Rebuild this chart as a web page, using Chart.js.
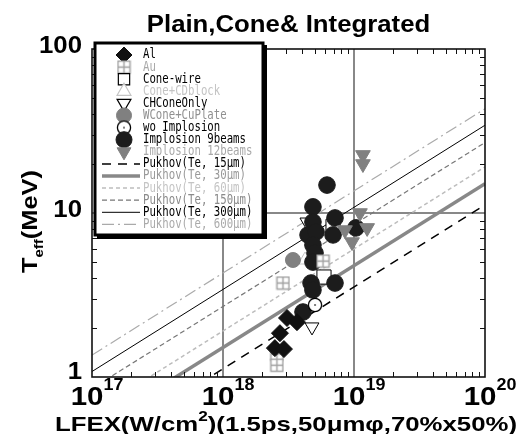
<!DOCTYPE html>
<html><head><meta charset="utf-8">
<script src="https://cdn.jsdelivr.net/npm/chart.js@4/dist/chart.umd.min.js"></script>
<style>html,body{margin:0;padding:0;background:#fff}#wrap{width:520px;height:434px;position:relative}</style>
</head><body><div id="wrap"><canvas id="c"></canvas></div>
<script>
// ---- data (I in W/cm^2, T in MeV) ----
const alI = [3.08e18, 3.67e18, 2.72e18, 2.49e18, 2.92e18];
const alT = [2.29, 2.16, 1.85, 1.50, 1.48];
const auI = [2.87e18, 5.80e18, 2.58e18, 2.58e18];
const auT = [3.74, 5.09, 1.38, 1.18];
const coneWireI = [5.90e18, 6.92e18];
const coneWireT = [4.07, 8.3];
const cdBlockI = [4.23e18];
const cdBlockT = [5.17];
const chConeI = [4.78e18, 4.37e18];
const chConeT = [2.02, 8.81];
const wConeI = [3.42e18];
const wConeT = [5.17];
const woImpI = [5.04e18];
const woImpT = [2.75];
const imp9I = [6.22e18, 4.86e18, 4.86e18, 4.46e18, 5.13e18, 4.86e18, 5.04e18, 4.86e18, 7.16e18, 6.92e18, 1.035e19, 4.70e18, 4.86e18, 7.16e18, 4.08e18];
const imp9T = [14.8, 10.9, 8.81, 7.35, 7.66, 6.38, 5.70, 5.02, 9.33, 7.35, 8.11, 3.74, 3.39, 3.74, 2.49];
const imp12I = [1.17e19, 1.17e19, 1.11e19, 8.53e18, 1.26e19, 9.66e18];
const imp12T = [22.6, 19.9, 10.0, 7.87, 8.11, 6.65];
// Pukhov lines: values at the two ends of the x range
const lineI = [1e17, 1e20];
const pukhov15 = [0.355, 11.2];
const pukhov30 = [0.479, 15.1];
const pukhov60 = [0.603, 19.1];
const pukhov150 = [0.851, 26.9];
const pukhov300 = [1.08, 34.3];
const pukhov600 = [1.36, 43.2];
// axes
const xTicks = [1e17, 1e18, 1e19, 1e20];
const xTickExp = ['17', '18', '19', '20'];
const yTicks = [1, 10, 100];
const yTickLabels = ['1', '10', '100'];
const xGrid = [1e18, 1e19];
const yGrid = [10];

// ---- custom marker images ----
function makeAu() {
  const c = document.createElement('canvas'); c.width = 15; c.height = 15;
  const g = c.getContext('2d');
  g.fillStyle = '#fff'; g.fillRect(1, 1, 13, 13);
  g.strokeStyle = '#a0a0a0'; g.lineWidth = 1.4;
  g.strokeRect(1.5, 1.5, 12, 12);
  g.beginPath(); g.moveTo(7.5, 1.5); g.lineTo(7.5, 13.5); g.moveTo(1.5, 7.5); g.lineTo(13.5, 7.5); g.stroke();
  return c;
}
function makeWo() {
  const c = document.createElement('canvas'); c.width = 16; c.height = 16;
  const g = c.getContext('2d');
  g.beginPath(); g.arc(8, 8, 6.6, 0, Math.PI * 2);
  g.fillStyle = '#fff'; g.fill(); g.strokeStyle = '#000'; g.lineWidth = 1.3; g.stroke();
  g.beginPath(); g.arc(8, 8, 1, 0, Math.PI * 2); g.fillStyle = '#555'; g.fill();
  return c;
}
const pts = (I, T) => I.map((x, i) => ({ x, y: T[i] }));
function pointDs(label, I, T, o) {
  return Object.assign({ label, data: pts(I, T), showLine: false, pointBorderWidth: 1, borderWidth: 1 }, o);
}
function lineDs(label, T, o) {
  return Object.assign({ label, data: pts(lineI, T), showLine: true, pointRadius: 0, pointHoverRadius: 0, fill: false, order: 20 }, o);
}
const datasets = [
  pointDs('Al', alI, alT, { pointStyle: 'rectRot', pointRadius: 8.5, backgroundColor: '#111', borderColor: '#111', textColor: '#000', order: 1 }),
  pointDs('Au', auI, auT, { pointStyle: makeAu(), pointRadius: 7, backgroundColor: '#fff', borderColor: '#a0a0a0', textColor: '#a8a8a8', order: 2 }),
  pointDs('Cone-wire', coneWireI, coneWireT, { pointStyle: 'rect', pointRadius: 10, backgroundColor: '#fff', borderColor: '#000', borderWidth: 1.2, textColor: '#000', order: 8 }),
  pointDs('Cone+CDblock', cdBlockI, cdBlockT, { pointStyle: 'triangle', pointRadius: 8, backgroundColor: '#fff', borderColor: '#c4c4c4', borderWidth: 1.2, textColor: '#c4c4c4', order: 8 }),
  pointDs('CHConeOnly', chConeI, chConeT, { pointStyle: 'triangle', rotation: 180, pointRotation: 180, pointRadius: 8, backgroundColor: '#fff', borderColor: '#000', borderWidth: 1.2, textColor: '#000', order: 8 }),
  pointDs('WCone+CuPlate', wConeI, wConeT, { pointStyle: 'circle', pointRadius: 7.5, backgroundColor: '#808080', borderColor: '#808080', textColor: '#909090', order: 3 }),
  pointDs('wo Implosion', woImpI, woImpT, { pointStyle: makeWo(), pointRadius: 7, backgroundColor: '#fff', borderColor: '#000', textColor: '#000', order: 3 }),
  pointDs('Implosion 9beams', imp9I, imp9T, { pointStyle: 'circle', pointRadius: 8.3, backgroundColor: '#1c1c1c', borderColor: '#1c1c1c', textColor: '#000', order: 5 }),
  pointDs('Implosion 12beams', imp12I, imp12T, { pointStyle: 'triangle', rotation: 180, pointRotation: 180, pointRadius: 8.5, backgroundColor: '#808080', borderColor: '#808080', textColor: '#a8a8a8', order: 4 }),
  lineDs('Pukhov(Te, 15\u03bcm)', pukhov15, { borderColor: '#000', borderWidth: 1.5, borderDash: [9, 7], textColor: '#000' }),
  lineDs('Pukhov(Te, 30\u03bcm)', pukhov30, { borderColor: '#888', borderWidth: 3.5, textColor: '#999' }),
  lineDs('Pukhov(Te, 60\u03bcm)', pukhov60, { borderColor: '#bdbdbd', borderWidth: 1.5, borderDash: [4, 3], textColor: '#c4c4c4' }),
  lineDs('Pukhov(Te, 150\u03bcm)', pukhov150, { borderColor: '#777', borderWidth: 1.2, borderDash: [5, 3], textColor: '#8a8a8a' }),
  lineDs('Pukhov(Te, 300\u03bcm)', pukhov300, { borderColor: '#000', borderWidth: 1, textColor: '#000' }),
  lineDs('Pukhov(Te, 600\u03bcm)', pukhov600, { borderColor: '#aaa', borderWidth: 1.2, borderDash: [12, 4, 2, 4], textColor: '#aaa' })
];

const FONT = '"Liberation Sans", Arial, sans-serif';
function drawText(ctx, s, x, y, size, sx, align, color, weight) {
  ctx.save();
  ctx.font = (weight || 'bold') + ' ' + size + 'px ' + FONT;
  ctx.fillStyle = color || '#000';
  ctx.textBaseline = 'alphabetic'; ctx.textAlign = 'left';
  const w = ctx.measureText(s).width * sx;
  const x0 = align === 'center' ? x - w / 2 : align === 'right' ? x - w : x;
  ctx.translate(x0, y); ctx.scale(sx, 1); ctx.fillText(s, 0, 0);
  ctx.restore();
  return w;
}
function measure(ctx, s, size) {
  ctx.save(); ctx.font = 'bold ' + size + 'px ' + FONT; const w = ctx.measureText(s).width; ctx.restore(); return w;
}
function seg(ctx, x1, y1, x2, y2) { ctx.beginPath(); ctx.moveTo(x1, y1); ctx.lineTo(x2, y2); ctx.stroke(); }

const deco = {
  id: 'deco',
  beforeDatasetsDraw(chart) {
    const { ctx, chartArea: a, scales: { x, y } } = chart;
    ctx.save();
    ctx.strokeStyle = '#888'; ctx.lineWidth = 2;
    xGrid.forEach(v => { const p = x.getPixelForValue(v); seg(ctx, p, a.top, p, a.bottom); });
    yGrid.forEach(v => { const p = y.getPixelForValue(v); seg(ctx, a.left, p, a.right, p); });
    ctx.restore();
  },
  afterDatasetsDraw(chart) {
    const { ctx, chartArea: a, scales: { x, y } } = chart;
    ctx.save();
    ctx.strokeStyle = '#111'; ctx.lineWidth = 1;
    for (let d = 17; d < 20; d++) for (let m = 2; m <= 9; m++) {
      const p = Math.round(x.getPixelForValue(m * Math.pow(10, d))) + 0.5;
      seg(ctx, p, a.bottom, p, a.bottom - 5); seg(ctx, p, a.top, p, a.top + 5);
    }
    for (let d = 0; d < 2; d++) for (let m = 2; m <= 9; m++) {
      const p = Math.round(y.getPixelForValue(m * Math.pow(10, d))) + 0.5;
      seg(ctx, a.left, p, a.left + 5, p); seg(ctx, a.right, p, a.right - 5, p);
    }
    ctx.lineWidth = 1.6; ctx.strokeStyle = '#111';
    ctx.strokeRect(a.left, a.top, a.right - a.left, a.bottom - a.top);
    ctx.restore();
  },
  afterDraw(chart) {
    const { ctx, chartArea: a, scales: { x, y } } = chart;
    // legend
    const L = { x0: 95, y0: 43, x1: 263, y1: 235, tx: 143, ry: 55, step: 12.1 };
    ctx.save();
    ctx.fillStyle = '#fff'; ctx.fillRect(L.x0, L.y0, L.x1 - L.x0, L.y1 - L.y0);
    ctx.fillStyle = '#000';
    ctx.fillRect(L.x1, L.y0 + 2, 4, L.y1 - L.y0 + 2);
    ctx.fillRect(L.x0 + 2, L.y1, L.x1 - L.x0 + 2, 4);
    ctx.lineWidth = 3; ctx.strokeStyle = '#000';
    ctx.strokeRect(L.x0, L.y0, L.x1 - L.x0, L.y1 - L.y0);
    chart.data.datasets.forEach((d, i) => {
      const yy = L.ry + i * L.step;
      if (d.showLine) {
        ctx.save();
        ctx.strokeStyle = d.borderColor; ctx.lineWidth = d.borderWidth; ctx.setLineDash(d.borderDash || []);
        seg(ctx, 102, yy, 140, yy);
        ctx.restore();
      } else {
        ctx.save();
        ctx.fillStyle = d.backgroundColor; ctx.strokeStyle = d.borderColor; ctx.lineWidth = d.borderWidth;
        Chart.helpers.drawPoint(ctx, { pointStyle: d.pointStyle, radius: Math.min(d.pointRadius, 8), rotation: d.rotation || 0, borderWidth: d.borderWidth }, 124, yy);
        ctx.restore();
      }
      ctx.save();
      ctx.font = '10.7px "DejaVu Sans Mono", monospace';
      ctx.fillStyle = d.textColor; ctx.textBaseline = 'middle';
      ctx.translate(L.tx, yy); ctx.scale(1, 1.25); ctx.fillText(d.label, 0, 0);
      ctx.restore();
    });
    ctx.restore();

    // title
    drawText(ctx, 'Plain,Cone& Integrated', 288.5, 32, 23, 1.12, 'center');
    // x tick labels
    xTicks.forEach((v, i) => {
      const p = x.getPixelForValue(v);
      const w1 = measure(ctx, '10', 25) * 1.18, w2 = measure(ctx, xTickExp[i], 16) * 1.12;
      const s = p + 5 - (w1 + w2) / 2;
      drawText(ctx, '10', s, 405, 25, 1.18, 'left');
      drawText(ctx, xTickExp[i], s + w1, 390, 16, 1.12, 'left');
    });
    // y tick labels
    yTicks.forEach((v, i) => {
      const p = y.getPixelForValue(v);
      drawText(ctx, yTickLabels[i], 82, p + (v === 1 ? 2 : 4), 23, 1.12, 'right');
    });
    // x title
    const p1 = 'LFEX(W/cm', p2 = '2', p3 = ')(1.5ps,50\u03bcm\u03c6,70%x50%)';
    const w1 = measure(ctx, p1, 21), w2 = measure(ctx, p2, 14), w3 = measure(ctx, p3, 21);
    const sx = 462 / (w1 + w2 + w3);
    let xx = 55;
    xx += drawText(ctx, p1, xx, 431, 21, sx, 'left');
    xx += drawText(ctx, p2, xx, 421, 14, sx, 'left');
    drawText(ctx, p3, xx, 431, 21, sx, 'left');
    // y title (rotated)
    ctx.save();
    ctx.translate(37, 273); ctx.rotate(-Math.PI / 2);
    const t1 = measure(ctx, 'T', 22), t2 = measure(ctx, 'eff', 13), t3 = measure(ctx, '(MeV)', 22);
    const sy = 103 / (t1 + t2 + t3);
    let yy = 0;
    yy += drawText(ctx, 'T', yy, 0, 22, sy, 'left');
    yy += drawText(ctx, 'eff', yy, 6, 13, sy, 'left');
    drawText(ctx, '(MeV)', yy, 0, 22, sy, 'left');
    ctx.restore();
  }
};

new Chart(document.getElementById('c'), {
  type: 'scatter',
  data: { datasets },
  options: {
    responsive: true, maintainAspectRatio: false, animation: false,
    layout: { padding: { left: 92, right: 35, top: 49, bottom: 57 } },
    plugins: { legend: { display: false }, tooltip: { enabled: false }, title: { display: false } },
    scales: {
      x: { type: 'logarithmic', min: 1e17, max: 1e20, display: false },
      y: { type: 'logarithmic', min: 1, max: 100, display: false }
    }
  },
  plugins: [deco]
});
</script>
</body></html>
